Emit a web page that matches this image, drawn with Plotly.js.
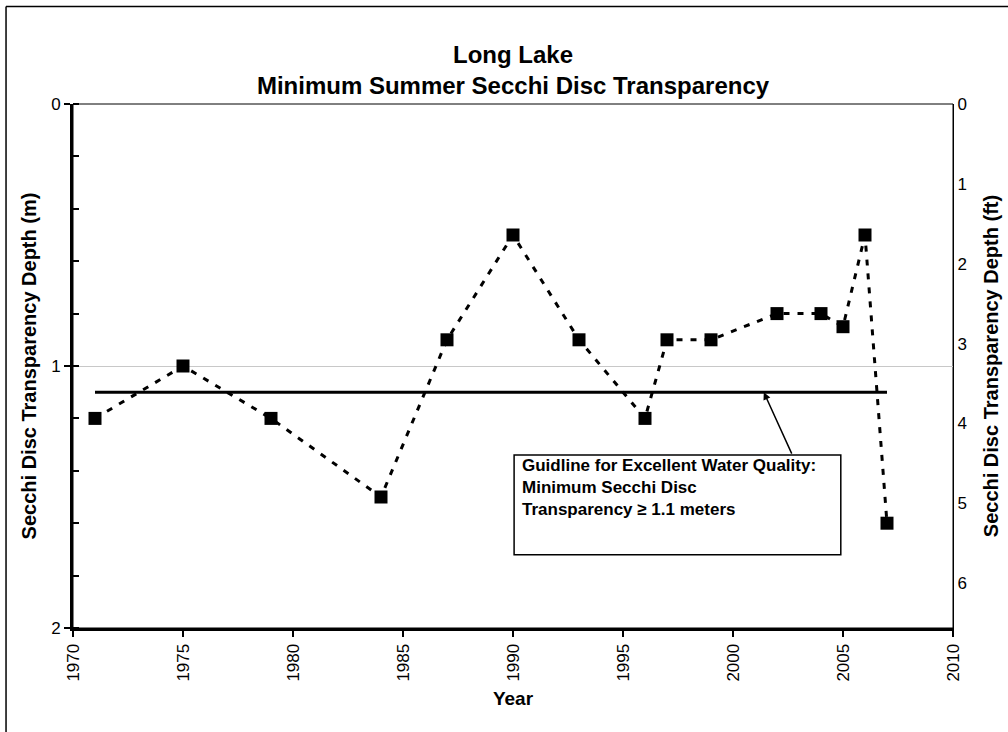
<!DOCTYPE html>
<html>
<head>
<meta charset="utf-8">
<script src="https://cdn.plot.ly/plotly-3.0.1.min.js"></script>
<style>
html,body{margin:0;padding:0;background:#fff;}
#chart{width:1008px;height:732px;}
</style>
</head>
<body>
<div id="chart"></div>
<script>
const years = [1971, 1975, 1979, 1984, 1987, 1990, 1993, 1996, 1997, 1999, 2002, 2004, 2005, 2006, 2007];
const depthM = [1.2, 1.0, 1.2, 1.5, 0.9, 0.5, 0.9, 1.2, 0.9, 0.9, 0.8, 0.8, 0.85, 0.5, 1.6];
const guideYears = [1971, 2007];
const guideDepth = [1.1, 1.1];
const xTicks = [1970, 1975, 1980, 1985, 1990, 1995, 2000, 2005, 2010];
const mTicks = [0, 1, 2];
const ftTicks = [0, 1, 2, 3, 4, 5, 6];
const M_PER_FT = 0.3048;

const fontFam = 'Liberation Sans, Arial, sans-serif';

const traces = [
  {
    x: guideYears, y: guideDepth, type: 'scatter', mode: 'lines',
    line: {color: '#000', width: 3}, hoverinfo: 'skip', showlegend: false
  },
  {
    x: years, y: depthM, type: 'scatter', mode: 'lines+markers',
    line: {color: '#000', width: 3, dash: '6px,8px'},
    marker: {symbol: 'square', size: 13, color: '#000'},
    showlegend: false
  },
  {
    x: [years[0]], y: [depthM[0] / M_PER_FT], yaxis: 'y2', type: 'scatter',
    mode: 'markers', marker: {opacity: 0}, hoverinfo: 'skip', showlegend: false
  }
];

const layout = {
  width: 1008, height: 732,
  paper_bgcolor: '#fff', plot_bgcolor: '#fff',
  margin: {l: 73, r: 55, t: 104, b: 104},
  font: {family: fontFam, color: '#000', size: 17},
  title: {
    text: '<b>Long Lake</b><br><b>Minimum Summer Secchi Disc Transparency</b>',
    font: {family: fontFam, size: 24, color: '#000'},
    x: 0.5, xref: 'paper', y: 0.914, yref: 'container', yanchor: 'middle'
  },
  xaxis: {
    range: [1970, 2010], tickvals: xTicks, ticktext: xTicks.map(String),
    tickangle: -90, ticks: 'outside', ticklen: 6, tickwidth: 2, tickcolor: '#000',
    showline: true, linecolor: '#000', linewidth: 3, showgrid: false, zeroline: false,
    tickfont: {size: 17},
    title: {text: '<b>Year</b>', font: {size: 19}, standoff: 12}
  },
  yaxis: {
    range: [2, 0], tickvals: mTicks, ticktext: mTicks.map(String),
    ticks: 'outside', ticklen: 6, tickwidth: 2, tickcolor: '#000',
    minor: {dtick: 0.2, ticks: 'inside', ticklen: 6, tickwidth: 2, tickcolor: '#000', showgrid: false},
    showline: true, linecolor: '#000', linewidth: 3,
    showgrid: true, gridcolor: '#c8c8c8', gridwidth: 1, zeroline: false,
    tickfont: {size: 17},
    title: {text: '<b>Secchi Disc Transparency Depth (m)</b>', font: {size: 20}, standoff: 10}
  },
  yaxis2: {
    overlaying: 'y', side: 'right', range: [2 / M_PER_FT, 0],
    tickvals: ftTicks, ticktext: ftTicks.map(String),
    ticks: '', showline: true, linecolor: '#000', linewidth: 1,
    showgrid: false, zeroline: false, tickfont: {size: 17},
    title: {text: '<b>Secchi Disc Transparency Depth (ft)</b>', font: {size: 20}, standoff: 18}
  },
  shapes: [
    {type: 'rect', xref: 'paper', yref: 'paper', x0: 0, x1: 1, y0: 0, y1: 1,
     line: {color: '#000', width: 1}, fillcolor: 'rgba(0,0,0,0)', layer: 'below'},
    {type: 'rect', xref: 'x', yref: 'y', x0: 1990.05, x1: 2004.9, y0: 1.34, y1: 1.72,
     line: {color: '#000', width: 1.5}, fillcolor: '#fff', layer: 'above'},
    {type: 'line', xref: 'paper', yref: 'paper', x0: -0.0761, x1: 1.2, y0: 1.186, y1: 1.186,
     line: {color: '#000', width: 1.5}},
    {type: 'line', xref: 'paper', yref: 'paper', x0: -0.0761, x1: -0.0761, y0: 1.186, y1: -0.3,
     line: {color: '#000', width: 1.5}}
  ],
  annotations: [
    {x: 1990.3, y: 1.335, xref: 'x', yref: 'y', xanchor: 'left', yanchor: 'top',
     align: 'left', showarrow: false,
     text: '<b>Guidline for Excellent Water Quality:</b><br><b>Minimum Secchi Disc</b><br><b>Transparency ≥ 1.1 meters</b>',
     font: {size: 17, color: '#000'}},
    {x: 2001.4, y: 1.1, xref: 'x', yref: 'y', ax: 2002.7, ay: 1.34, axref: 'x', ayref: 'y',
     text: '', showarrow: true, arrowhead: 2, arrowsize: 1, arrowwidth: 1.5, arrowcolor: '#000'}
  ]
};

Plotly.newPlot('chart', traces, layout, {displayModeBar: false, staticPlot: true});
</script>
</body>
</html>
